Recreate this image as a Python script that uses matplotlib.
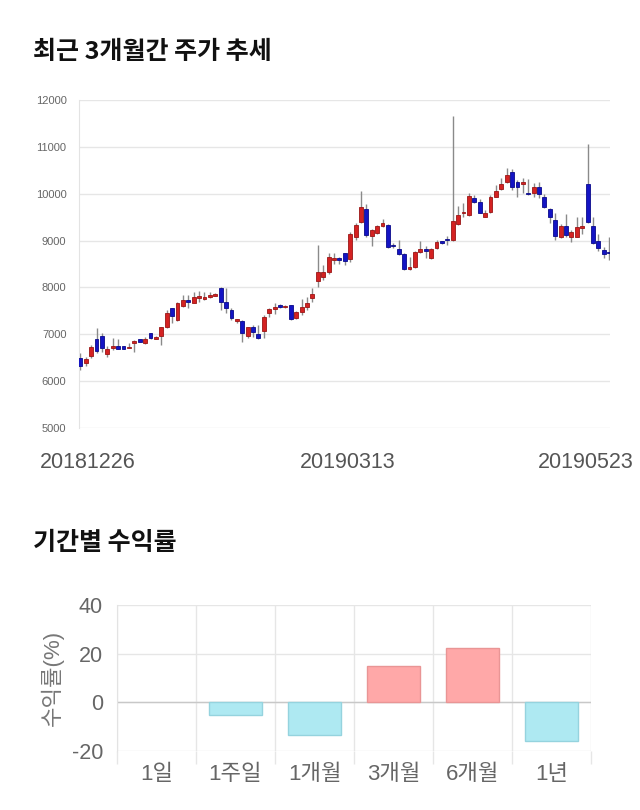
import numpy as np
import matplotlib
matplotlib.use('Agg')
import matplotlib.pyplot as plt

plt.rcParams['font.family'] = ['Liberation Sans', 'Noto Sans CJK KR']
plt.rcParams['axes.unicode_minus'] = False

###################################################################################################
# Daily candles (open, high, low, close), 2018-12-26 .. 2019-05-23
opens = [6499, 6392, 6534, 6897, 6961, 6570, 6712, 6755, 6748, 6712,
         6805, 6897, 6805, 7018, 6904, 6961, 7146, 7552, 7303, 7609,
         7730, 7673, 7772, 7758, 7801, 7822, 7979, 7694, 7516, 7274,
         7281, 6961, 7146, 6997, 7075, 7445, 7530, 7630, 7580, 7616,
         7338, 7481, 7587, 7765, 8143, 8214, 8335, 8584, 8619, 8726,
         8598, 9082, 9388, 9673, 9103, 9160, 9317, 9331, 8904, 8819,
         8712, 8399, 8427, 8755, 8819, 8619, 8833, 8982, 9032, 9011,
         9352, 9580, 9552, 9900, 9815, 9509, 9616, 9936, 10100, 10249,
         10456, 10249, 10207, 10021, 10007, 10150, 9922, 9673, 9438, 9068,
         9310, 9068, 9082, 9267, 10199, 9310, 8997, 8797, 8762]
highs = [6605, 6520, 6769, 7139, 7018, 6755, 6925, 6890, 6760, 6805,
         6880, 6910, 6947, 7030, 6960, 7160, 7516, 7570, 7694, 7836,
         7836, 7908, 7929, 7900, 7910, 7880, 8014, 7979, 7566, 7330,
         7300, 7160, 7196, 7196, 7409, 7566, 7673, 7650, 7625, 7630,
         7490, 7744, 7801, 7979, 8904, 8477, 8726, 8726, 8640, 8740,
         9189, 9367, 10057, 9780, 9240, 9330, 9452, 9345, 8954, 9011,
         8730, 8655, 8770, 8997, 8890, 8847, 9011, 9000, 9103, 11658,
         9737, 9808, 10007, 9972, 9879, 9651, 9972, 10185, 10327, 10541,
         10520, 10292, 10342, 10306, 10235, 10256, 9986, 9701, 9594, 9352,
         9566, 9224, 9495, 9495, 11053, 9509, 9132, 8869, 9082]
lows = [6235, 6328, 6484, 6605, 6627, 6506, 6662, 6677, 6677, 6698,
        6627, 6825, 6790, 6890, 6890, 6769, 7130, 7232, 7290, 7590,
        7566, 7660, 7694, 7740, 7780, 7810, 7516, 7445, 7303, 7250,
        6840, 6911, 6947, 6890, 6911, 7360, 7424, 7570, 7565, 7300,
        7320, 7409, 7516, 7694, 8014, 8157, 8278, 8491, 8491, 8477,
        8548, 9011, 9370, 9082, 8890, 9140, 9300, 8840, 8847, 8691,
        8375, 8370, 8410, 8726, 8619, 8598, 8820, 8920, 8904, 8990,
        9331, 9495, 9530, 9794, 9580, 9495, 9594, 9920, 10085, 10230,
        10078, 9922, 10007, 9972, 9922, 9901, 9687, 9367, 9011, 9046,
        9068, 8961, 9068, 9139, 9367, 8925, 8783, 8619, 8584]
closes = [6328, 6470, 6733, 6648, 6698, 6691, 6755, 6691, 6691, 6720,
          6862, 6840, 6897, 6911, 6947, 7146, 7445, 7395, 7659, 7730,
          7687, 7787, 7815, 7801, 7836, 7865, 7694, 7552, 7353, 7317,
          7018, 7146, 7039, 6911, 7374, 7530, 7587, 7587, 7609, 7317,
          7474, 7587, 7659, 7858, 8321, 8321, 8648, 8619, 8584, 8562,
          9139, 9324, 9715, 9118, 9224, 9310, 9367, 8854, 8883, 8712,
          8392, 8427, 8755, 8819, 8769, 8812, 8975, 8940, 9004, 9417,
          9545, 9616, 9950, 9822, 9594, 9580, 9936, 10057, 10199, 10406,
          10150, 10150, 10256, 10000, 10150, 9993, 9708, 9495, 9096, 9310,
          9125, 9189, 9296, 9303, 9402, 8954, 8833, 8712, 8726]
date_labels = ['20181226', '20190313', '20190523']

# Period returns (%)
periods = ['1일', '1주일', '1개월', '3개월', '6개월', '1년']
returns = [0.0, -5.2, -13.6, 15.1, 22.4, -15.7]

###################################################################################################
fig = plt.figure(figsize=(6.4, 8.1), dpi=100)

# ---- candlestick chart
ax = fig.add_axes([79 / 640, 1 - 428 / 810, 531 / 640, 328 / 810])
o = np.array(opens)
h = np.array(highs)
l = np.array(lows)
c = np.array(closes)
x = np.arange(len(o))
up = c >= o

ax.vlines(x, l, h, color='#8a8a8a', linewidth=1, zorder=2)
body_bottom = np.minimum(o, c)
body_height = np.maximum(np.abs(c - o), 18)
ax.bar(x[up], body_height[up], bottom=body_bottom[up], width=0.72,
       color='#d42222', edgecolor='#9a1515', linewidth=0.6, zorder=3)
ax.bar(x[~up], body_height[~up], bottom=body_bottom[~up], width=0.72,
       color='#1414c4', edgecolor='#0a0a8a', linewidth=0.6, zorder=3)

ax.set_xlim(-0.25, 98.15)
ax.set_ylim(5000, 12000)
ax.set_yticks(np.arange(5000, 12001, 1000))
ax.yaxis.grid(True, color='#e6e6e6', linewidth=1)
ax.set_axisbelow(True)
ax.tick_params(axis='y', length=0, pad=9, labelsize=8, labelcolor='#666666')
ax.set_xticks([1.3, 49.5, 93.6])
ax.set_xticklabels(date_labels)
ax.tick_params(axis='x', length=0, pad=17, labelsize=15.5, labelcolor='#555555')
for s in ['top', 'right', 'bottom']:
    ax.spines[s].set_visible(False)
ax.spines['left'].set_color('#e3e3e3')

# ---- returns bar chart
ax2 = fig.add_axes([117 / 640, 1 - 751 / 810, 474 / 640, 146 / 810])
xp = np.arange(len(periods))
r = np.array(returns)
cols = ['#ffa8a8' if v > 0 else '#aee9f2' if v < 0 else 'none' for v in r]
edges = ['#e99595' if v > 0 else '#95d3de' if v < 0 else 'none' for v in r]
ax2.bar(xp, r, width=0.68, color=cols, edgecolor=edges, linewidth=1, zorder=3)
ax2.axhline(0, color='#c8c8c8', linewidth=1, zorder=2)

ax2.set_xlim(-0.5, len(periods) - 0.5)
ax2.set_ylim(-20, 40)
ax2.set_yticks([-20, 0, 20, 40])
ax2.set_xticks(xp)
ax2.set_xticklabels(periods)
ax2.set_xticks(np.arange(-0.5, len(periods)), minor=True)
ax2.xaxis.grid(True, which='minor', color='#e6e6e6', linewidth=1)
ax2.yaxis.grid(True, color='#e6e6e6', linewidth=1)
ax2.set_axisbelow(True)
ax2.tick_params(axis='x', which='major', length=0, pad=9, labelsize=16, labelcolor='#666666')
ax2.tick_params(axis='x', which='minor', length=9, color='#e6e6e6', width=1)
ax2.tick_params(axis='y', length=0, pad=10, labelsize=15.5, labelcolor='#666666')
for s in ['top', 'right', 'bottom']:
    ax2.spines[s].set_visible(False)
ax2.spines['left'].set_color('#e3e3e3')
ax2.set_ylabel('수익률(%)', fontsize=16, color='#777777', labelpad=6)

# ---- titles
fig.text(33 / 640, 1 - 52 / 810, '최근 3개월간 주가 추세', fontsize=18, weight='bold',
         color='#111111', va='center', family=['Noto Sans CJK KR'])
fig.text(33 / 640, 1 - 543 / 810, '기간별 수익률', fontsize=18, weight='bold',
         color='#111111', va='center', family=['Noto Sans CJK KR'])

plt.savefig('out.png', dpi=100)
